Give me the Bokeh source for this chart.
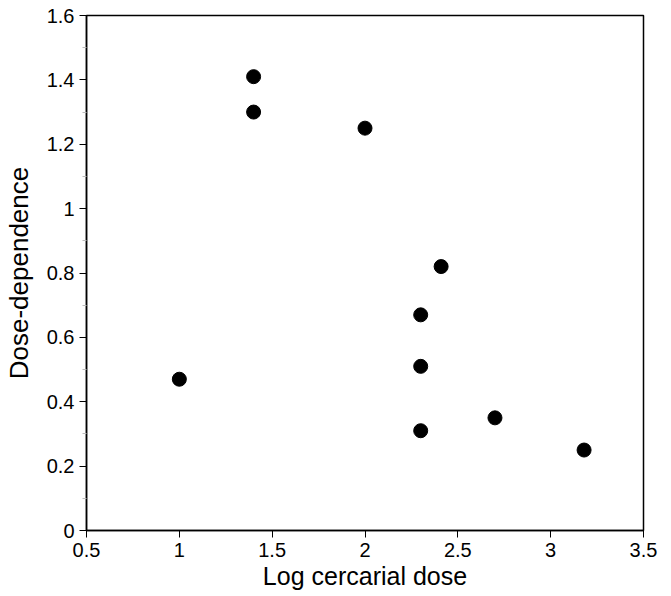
from bokeh.plotting import figure
from bokeh.models import FixedTicker, Range1d
from bokeh.embed import file_html
from bokeh.resources import INLINE

# Data
log_dose = [1.0, 1.4, 1.4, 2.0, 2.41, 2.3, 2.3, 2.3, 2.7, 3.18]
dose_dependence = [0.47, 1.41, 1.30, 1.25, 0.82, 0.67, 0.51, 0.31, 0.35, 0.25]

x_ticks = [0.5, 1.0, 1.5, 2.0, 2.5, 3.0, 3.5]
x_tick_labels = ["0.5", "1", "1.5", "2", "2.5", "3", "3.5"]
y_ticks = [0.0, 0.2, 0.4, 0.6, 0.8, 1.0, 1.2, 1.4, 1.6]
y_tick_labels = ["0", "0.2", "0.4", "0.6", "0.8", "1", "1.2", "1.4", "1.6"]
y_minor = [0.1, 0.3, 0.5, 0.7, 0.9, 1.1, 1.3, 1.5]

FONT = "Liberation Sans"

p = figure(width=664, height=592, output_backend="svg", toolbar_location=None,
           x_range=Range1d(0.5, 3.5), y_range=Range1d(0, 1.6),
           min_border_left=86, min_border_top=15, min_border_right=21,
           min_border_bottom=60)

p.xgrid.visible = False
p.ygrid.visible = False
p.outline_line_color = "black"
p.outline_line_width = 1.5
p.background_fill_color = "white"
p.border_fill_color = "white"

p.scatter(log_dose, dose_dependence, size=14, color="black")

p.xaxis.ticker = FixedTicker(ticks=x_ticks)
p.xaxis.major_label_overrides = {t: l for t, l in zip(x_ticks, x_tick_labels)}
p.yaxis.ticker = FixedTicker(ticks=y_ticks, minor_ticks=y_minor)
p.yaxis.major_label_overrides = {t: l for t, l in zip(y_ticks, y_tick_labels)}

for ax in (p.xaxis, p.yaxis):
    ax.axis_line_width = 1.5
    ax.axis_line_color = "black"
    ax.major_tick_line_color = "black"
    ax.major_tick_line_width = 1
    ax.major_tick_out = 7
    ax.major_tick_in = 0
    ax.major_label_text_font = FONT
    ax.major_label_text_font_size = "20px"
    ax.major_label_text_color = "black"
    ax.axis_label_text_font = FONT
    ax.axis_label_text_font_style = "normal"
    ax.axis_label_text_color = "black"

p.xaxis.minor_tick_line_color = None
p.yaxis.minor_tick_line_color = "#bbbbbb"
p.yaxis.minor_tick_out = 4
p.yaxis.minor_tick_in = 0

p.xaxis.axis_label = "Log cercarial dose"
p.yaxis.axis_label = "Dose-dependence"
p.xaxis.axis_label_text_font_size = "25px"
p.yaxis.axis_label_text_font_size = "26px"
p.xaxis.major_label_standoff = 5
p.yaxis.major_label_standoff = 5
p.xaxis.axis_label_standoff = 2
p.yaxis.axis_label_standoff = 10

open("out.html", "w").write(file_html(p, INLINE))
